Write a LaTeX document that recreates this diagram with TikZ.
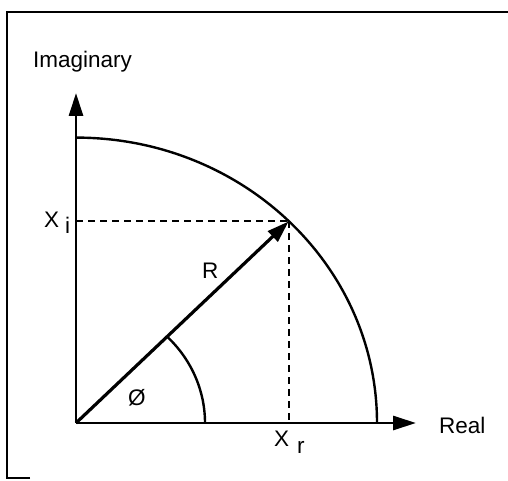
\documentclass[tikz,border=0pt]{standalone}
\usepackage{fontspec}
\setmainfont{Liberation Sans}
\usetikzlibrary{arrows.meta}
\begin{document}
\begin{tikzpicture}[x=1pt,y=1pt,
  axis/.style={line width=2.8pt,-{Triangle[length=23pt,width=14pt]}},
  vec/.style={line width=3.2pt,-{Triangle[length=22pt,width=14pt]}},
  curve/.style={line width=2.4pt},
  guide/.style={line width=2pt,dash pattern=on 7pt off 5pt},
  frame/.style={line width=2.8pt},
  lbl/.style={inner sep=0pt,anchor=base west,font=\fontsize{22.5}{27}\selectfont}]
\useasboundingbox (0,0) rectangle (508,480);
% frame (cropped scan: top and left edges)
\coordinate (f1) at (7,2);
\coordinate (f0) at (30,2);
\coordinate (f2) at (7,468);
\coordinate (f3) at (508,468);
\draw[frame] (f0) -- (f1) -- (f2) -- (f3);
% points
\coordinate (O) at (76,57);
\coordinate (ytip) at (76,387);
\coordinate (xtip) at (416,57);
\coordinate (P) at (288.7,258.6);
\coordinate (Py) at (76,258.6);
\coordinate (Px) at (288.7,57);
% dashed projections
\draw[guide] (Py) -- (P);
\draw[guide] (P) -- (Px);
% big arc
\draw[curve] (377,57) arc[start angle=0,end angle=90,x radius=301,y radius=285.4];
% small angle arc
\draw[curve] (205,57) arc[start angle=0,end angle=45,x radius=129,y radius=122];
% axes
\draw[axis] (O) -- (ytip);
\draw[axis] (O) -- (xtip);
% vector R
\draw[vec] (O) -- (P);
% labels
\node[lbl] (imag) at (33,412) {Imaginary};
\node[lbl] (real) at (439,47) {Real};
\node[lbl] (Xi) at (44,253) {X};
\node[lbl] (iS) at (65,247) {i};
\node[lbl] (Xr) at (274,34) {X};
\node[lbl] (rS) at (297,27) {r};
\node[lbl] (R) at (202,202) {R};
\node[lbl] (phi) at (128,75) {Ø};
\end{tikzpicture}
\end{document}
